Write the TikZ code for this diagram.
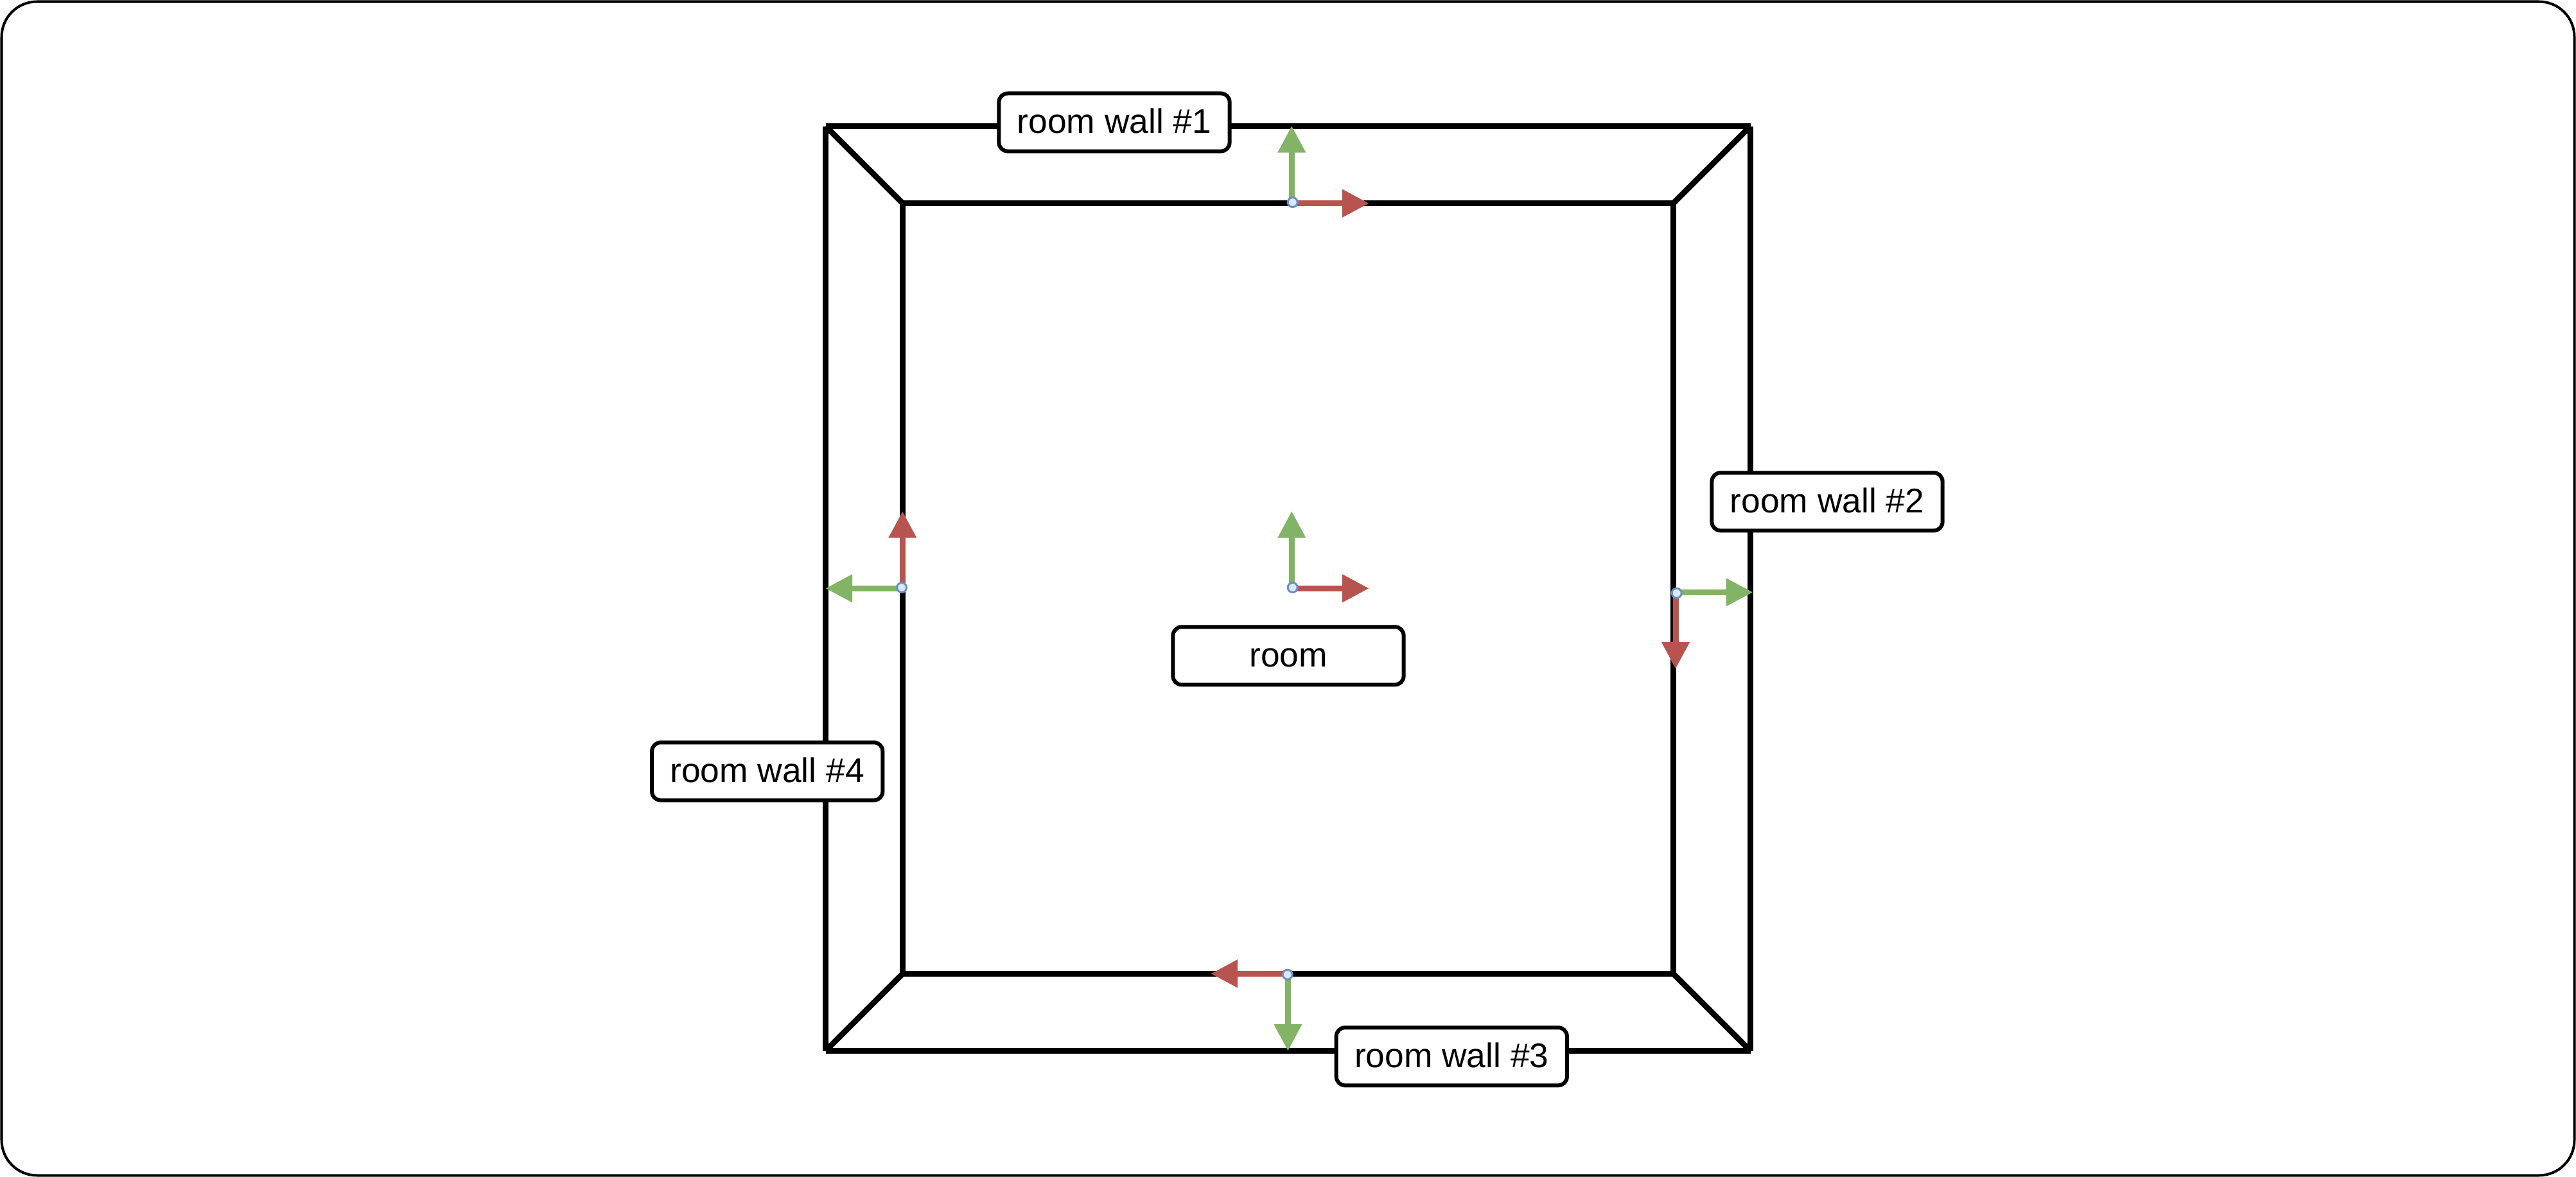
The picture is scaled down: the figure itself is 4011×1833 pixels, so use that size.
\documentclass[tikz,border=0pt]{standalone}
\usepackage{fontspec}
\setmainfont{Liberation Sans}
\usepackage{tikz}
\usetikzlibrary{arrows.meta}
\usepackage{xcolor}
\definecolor{xaxiscolor}{RGB}{184,84,80}
\definecolor{yaxiscolor}{RGB}{130,179,102}
\definecolor{originfillcolor}{RGB}{218,232,252}
\definecolor{origindrawcolor}{RGB}{108,142,191}

\begin{document}
\begin{tikzpicture}[x=0.01cm, y=-0.01cm]
  \tikzset{
    frameline/.style={
      draw=black,
      line width=0.04cm,
      rounded corners=0.55cm
    },
    wall/.style={
      draw=black,
      line width=0.09cm
    },
    walllabel/.style={
      draw=black,
      line width=0.06cm,
      fill=white,
      rounded corners=0.135cm,
      minimum width=3.59cm,
      minimum height=0.9cm,
      inner sep=0pt,
      anchor=center,
      text height=0.336cm,
      text depth=0cm,
      font=\fontsize{15.17pt}{18pt}\selectfont
    },
    xaxis/.style={
      draw=xaxiscolor,
      line width=0.09cm,
      -{Triangle[length=0.417cm,width=0.415cm]},
      color=xaxiscolor
    },
    yaxis/.style={
      draw=yaxiscolor,
      line width=0.09cm,
      -{Triangle[length=0.417cm,width=0.415cm]},
      color=yaxiscolor
    },
    originmark/.style={
      circle,
      draw=origindrawcolor,
      fill=originfillcolor,
      line width=0.03cm,
      minimum size=0.15cm,
      inner sep=0pt
    }
  }

  \useasboundingbox (0, 0) rectangle (4011, 1833);

  % Draw the outer frame
  \draw[frameline] (2.5, 2.5) rectangle (4008.5, 1830.5);

  % Corners of the walls
  \coordinate (outerNW) at (1285.5, 196.5);
  \coordinate (outerNE) at (2725.5, 196.5);
  \coordinate (outerSE) at (2725.5, 1636.5);
  \coordinate (outerSW) at (1285.5, 1636.5);
  \coordinate (innerNW) at (1405.5, 316.5);
  \coordinate (innerNE) at (2605.5, 316.5);
  \coordinate (innerSE) at (2605.5, 1516.5);
  \coordinate (innerSW) at (1405.5, 1516.5);

  % Draw the walls
  \draw[wall] (outerNW) -- (outerNE);
  \draw[wall] (outerNE) -- (outerSE);
  \draw[wall] (outerSE) -- (outerSW);
  \draw[wall] (outerSW) -- (outerNW);
  \draw[wall] (innerNW) -- (innerNE);
  \draw[wall] (innerNE) -- (innerSE);
  \draw[wall] (innerSE) -- (innerSW);
  \draw[wall] (innerSW) -- (innerNW);
  \draw[wall] (outerNW) -- (innerNW);
  \draw[wall] (outerNE) -- (innerNE);
  \draw[wall] (outerSE) -- (innerSE);
  \draw[wall] (outerSW) -- (innerSW);

  % Labels of the walls and the room
  \node[walllabel] at (1735, 190.5) (wall1) {room wall \#1};
  \node[walllabel] at (2845, 781.3) (wall2) {room wall \#2};
  \node[walllabel] at (2260.3, 1645.3) (wall3) {room wall \#3};
  \node[walllabel] at (1194.7, 1201.3) (wall4) {room wall \#4};
  \node[walllabel] at (2006, 1021.3) (room) {room};

  % Axes of wall 1
  \coordinate (xtip1) at (2131.7, 316.7);
  \coordinate (ytip1) at (2011.3, 196);
  \draw[yaxis] (ytip1 |- xtip1) -- (ytip1);
  \draw[xaxis] (ytip1 |- xtip1) -- (xtip1);
  \node[originmark] at (2012.7, 315) (origin1) {};

  % Axes of wall 2
  \coordinate (xtip2) at (2609, 1041.7);
  \coordinate (ytip2) at (2729.3, 922.3);
  \draw[yaxis] (xtip2 |- ytip2) -- (ytip2);
  \draw[xaxis] (xtip2 |- ytip2) -- (xtip2);
  \node[originmark] at (2610.7, 923.7) (origin2) {};

  % Axes of wall 3
  \coordinate (xtip3) at (1885.3, 1516.3);
  \coordinate (ytip3) at (2005.4, 1636.7);
  \draw[yaxis] (ytip3 |- xtip3) -- (ytip3);
  \draw[xaxis] (ytip3 |- xtip3) -- (xtip3);
  \node[originmark] at (2004.7, 1517.7) (origin3) {};

  % Axes of wall 4
  \coordinate (xtip4) at (1405.3, 796);
  \coordinate (ytip4) at (1285.3, 916.3);
  \draw[yaxis] (xtip4 |- ytip4) -- (ytip4);
  \draw[xaxis] (xtip4 |- ytip4) -- (xtip4);
  \node[originmark] at (1404, 915) (origin4) {};

  % Axes of the room
  \coordinate (xtip5) at (2131.7, 916.3);
  \coordinate (ytip5) at (2011.3, 796);
  \draw[yaxis] (ytip5 |- xtip5) -- (ytip5);
  \draw[xaxis] (ytip5 |- xtip5) -- (xtip5);
  \node[originmark] at (2012.7, 915) (origin5) {};

\end{tikzpicture}
\end{document}
